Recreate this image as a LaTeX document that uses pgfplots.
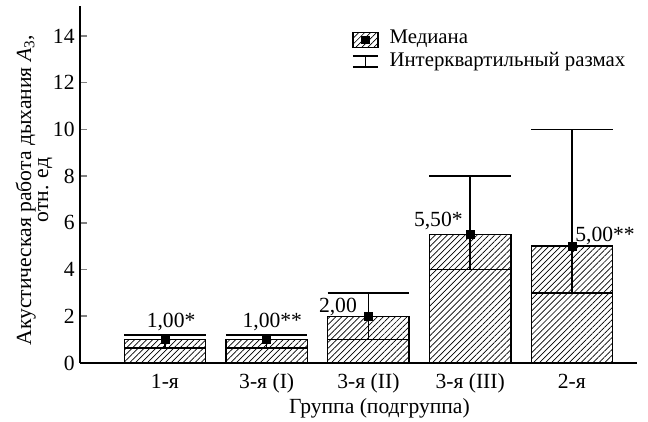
\documentclass[border=0pt]{standalone}
\usepackage{pgfplots}
\pgfplotsset{compat=1.18}
\usepackage{pgfplotstable}
\usetikzlibrary{patterns.meta}
\usepackage{fontspec}
\setmainfont{Liberation Serif}

\pgfplotstableread{
x med q1 q3
0 1.0 0.65 1.2
1 1.0 0.65 1.2
2 2.0 1.0 3.0
3 5.5 4.0 8.0
4 5.0 3.0 10.0
}\data

\tikzset{hatch/.style={pattern={Lines[angle=45,distance=2.1pt,line width=0.35pt]}}}

\begin{document}
\begin{tikzpicture}[font=\fontsize{10.8}{12.9}\selectfont]
\begin{axis}[
  scale only axis,
  width=278.5pt, height=178.5pt,
  xmin=-0.835, xmax=4.64,
  ymin=0, ymax=15.28,
  axis x line*=bottom, axis y line*=left,
  axis line style={line width=0.9pt},
  xtick={0,1,2,3,4},
  xticklabels={1-я,3-я (I),3-я (II),3-я (III),2-я},
  x tick style={draw=none},
  xticklabel style={anchor=base, yshift=-12.5pt, inner sep=0pt},
  ytick={0,2,4,6,8,10,12,14},
  y tick style={line width=0.8pt},
  yticklabel style={anchor=east, inner sep=0pt, xshift=-2.5pt},
  tick align=inside,
  major tick length=3.5pt,
  /pgf/number format/assume math mode=true,
  clip=false,
  legend style={at={(rel axis cs:0.4883,0.941)}, anchor=north west, draw=none, fill=none,
    inner sep=0pt, row sep=0pt, font=\fontsize{10.4}{12.4}\selectfont,
    /tikz/every odd column/.append style={column sep=5.5pt},
    cells={anchor=base west},
    nodes={inner sep=0pt, text height=8pt, text depth=3.5pt}},
]
\addlegendimage{legend image code/.code={
  \draw[line width=0.6pt, hatch] (0pt,-2pt) rectangle (12.5pt,5.5pt);
  \fill (6.25pt,1.75pt) ++(-1.8pt,-1.8pt) rectangle ++(3.6pt,3.6pt);}}
\addlegendentry{Медиана}
\addlegendimage{legend image code/.code={
  \draw[line width=0.6pt] (0pt,-0.3pt) -- (12.5pt,-0.3pt) (6.25pt,-0.3pt) -- (6.25pt,5.2pt) (0pt,5.2pt) -- (12.5pt,5.2pt);}}
\addlegendentry{Интерквартильный размах}

\addplot[ybar, bar width=0.8, draw=black, line width=0.7pt, hatch, forget plot]
  table[x=x, y=med]{\data};

% lower quartile lines across bars
\addplot[black, line width=0.7pt, mark=none, unbounded coords=jump, forget plot] coordinates {
(-0.4,0.65) (0.4,0.65) (0,nan)
(0.6,0.65) (1.4,0.65) (1,nan)
(1.6,1.0) (2.4,1.0) (2,nan)
(2.6,4.0) (3.4,4.0) (3,nan)
(3.6,3.0) (4.4,3.0)
};
% whiskers
\addplot[black, line width=0.7pt, mark=none, unbounded coords=jump, forget plot] coordinates {
(0,0.65) (0,1.2) (0,nan)
(1,0.65) (1,1.2) (1,nan)
(2,1.0) (2,3.0) (2,nan)
(3,4.0) (3,8.0) (3,nan)
(4,3.0) (4,10.0)
};
% caps
\addplot[black, line width=0.7pt, mark=none, unbounded coords=jump, forget plot] coordinates {
(-0.4,1.2) (0.4,1.2) (0,nan)
(0.6,1.2) (1.4,1.2) (1,nan)
(1.6,3.0) (2.4,3.0) (2,nan)
(2.6,8.0) (3.4,8.0) (3,nan)
(3.6,10.0) (4.4,10.0)
};
% medians
\addplot[only marks, mark=square*, mark size=2pt, black, forget plot]
  table[x=x, y=med]{\data};

\node[anchor=base, inner sep=0pt] at (axis cs:0.06,1.54) {1,00*};
\node[anchor=base, inner sep=0pt] at (axis cs:1.055,1.54) {1,00**};
\node[anchor=base east, inner sep=0pt] at (axis cs:1.89,2.18) {2,00};
\node[anchor=base east, inner sep=0pt] at (axis cs:2.93,5.85) {5,50*};
\node[anchor=base west, inner sep=0pt] at (axis cs:4.03,5.19) {5,00**};

\node[yshift=-25pt, anchor=base, inner sep=0pt] at (rel axis cs:0.5377,0) {Группа (подгруппа)};
\node[xshift=-23pt, rotate=90, anchor=center, align=center, inner sep=0pt,
      font=\fontsize{10.8}{8.6}\selectfont] at (rel axis cs:0,0.4846)
  {Акустическая работа дыхания \textit{A}\textsubscript{3},\\ отн. ед};

% page margins as in the reference
\path (rel axis cs:0,0) ++(-40pt,-29pt) coordinate (bbA);
\path (rel axis cs:1,1) ++(5.5pt,3pt) coordinate (bbB);
\path (bbA) (bbB);
\end{axis}
\end{tikzpicture}
\end{document}
